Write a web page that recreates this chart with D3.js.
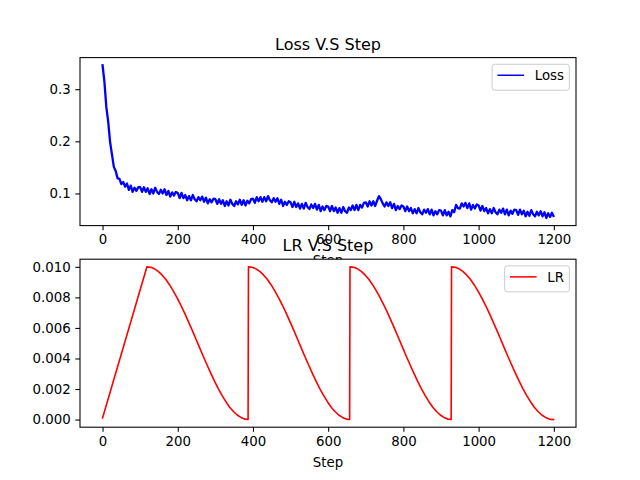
<!DOCTYPE html>
<html><head><meta charset="utf-8">
<script src="https://cdn.jsdelivr.net/npm/d3@7"></script>
<style>
body{margin:0;background:#fff}
svg{display:block}
text{font-family:"DejaVu Sans",sans-serif;fill:#000}
</style>
</head><body>
<script>
// ---------- DATA ----------
const lossStepInterval = 5;
const lossLastStep = 1199;
const lossValues = [
0.346,0.314,0.266,0.238,0.199,0.175,0.151,0.143,0.129,0.128,
0.118,0.122,0.113,0.119,0.107,0.115,0.103,0.111,0.105,0.112,
0.112,0.103,0.112,0.103,0.110,0.099,0.108,0.100,0.111,0.103,
0.099,0.107,0.100,0.108,0.097,0.105,0.094,0.102,0.096,0.103,
0.101,0.091,0.101,0.091,0.097,0.087,0.095,0.087,0.097,0.089,
0.085,0.093,0.087,0.094,0.084,0.092,0.081,0.089,0.083,0.090,
0.089,0.080,0.089,0.080,0.087,0.076,0.085,0.077,0.088,0.080,
0.076,0.085,0.079,0.088,0.078,0.087,0.077,0.086,0.081,0.089,
0.090,0.082,0.093,0.085,0.093,0.084,0.093,0.085,0.095,0.087,
0.083,0.091,0.084,0.091,0.080,0.088,0.076,0.084,0.078,0.085,
0.083,0.074,0.084,0.074,0.081,0.071,0.080,0.071,0.082,0.074,
0.070,0.079,0.072,0.080,0.069,0.078,0.066,0.075,0.068,0.076,
0.075,0.066,0.076,0.066,0.073,0.063,0.072,0.063,0.074,0.066,
0.063,0.073,0.068,0.077,0.068,0.078,0.068,0.078,0.073,0.082,
0.083,0.075,0.085,0.077,0.085,0.076,0.086,0.095,0.089,0.081,
0.075,0.083,0.076,0.083,0.072,0.080,0.068,0.076,0.070,0.077,
0.075,0.066,0.075,0.066,0.072,0.062,0.070,0.062,0.072,0.064,
0.060,0.069,0.063,0.070,0.060,0.069,0.058,0.066,0.060,0.068,
0.067,0.058,0.068,0.058,0.065,0.056,0.068,0.064,0.078,0.072,
0.071,0.081,0.075,0.082,0.072,0.081,0.069,0.078,0.071,0.079,
0.077,0.067,0.076,0.066,0.072,0.062,0.070,0.062,0.072,0.064,
0.060,0.069,0.063,0.071,0.060,0.069,0.058,0.067,0.061,0.069,
0.068,0.059,0.069,0.060,0.067,0.056,0.065,0.057,0.068,0.060,
0.056,0.065,0.058,0.066,0.056,0.064,0.053,0.062,0.055,0.063,
0.057
];
const lrSteps = [
0,
118,128,138,148,158,168,178,188,198,208,218,228,238,248,258,268,278,288,298,308,318,328,338,348,358,368,378,387,
388,398,408,418,428,438,448,458,468,478,488,498,508,518,528,538,548,558,568,578,588,598,608,618,628,638,648,657,
658,668,678,688,698,708,718,728,738,748,758,768,778,788,798,808,818,828,838,848,858,868,878,888,898,908,918,927,
928,938,948,958,968,978,988,998,1008,1018,1028,1038,1048,1058,1068,1078,1088,1098,1108,1118,1128,1138,1148,1158,1168,1178,1188,1199
];
const lrValues = [
0.00010,
0.01000,0.00997,0.00987,0.00970,0.00947,0.00919,0.00883,0.00843,0.00799,0.00750,0.00698,0.00643,0.00587,0.00529,0.00471,0.00413,0.00357,0.00302,0.00250,0.00201,0.00157,0.00117,0.00081,0.00053,0.00030,0.00014,0.00003,0.00000,
0.01000,0.00997,0.00987,0.00970,0.00947,0.00919,0.00883,0.00843,0.00799,0.00750,0.00698,0.00643,0.00587,0.00529,0.00471,0.00413,0.00357,0.00302,0.00250,0.00201,0.00157,0.00117,0.00081,0.00053,0.00030,0.00014,0.00003,0.00000,
0.01000,0.00997,0.00987,0.00970,0.00947,0.00919,0.00883,0.00843,0.00799,0.00750,0.00698,0.00643,0.00587,0.00529,0.00471,0.00413,0.00357,0.00302,0.00250,0.00201,0.00157,0.00117,0.00081,0.00053,0.00030,0.00014,0.00003,0.00000,
0.01000,0.00997,0.00987,0.00970,0.00947,0.00919,0.00883,0.00843,0.00799,0.00750,0.00698,0.00643,0.00587,0.00529,0.00471,0.00413,0.00357,0.00302,0.00250,0.00201,0.00157,0.00117,0.00081,0.00053,0.00030,0.00014,0.00003,0.00000
];
const xTicks = [0,200,400,600,800,1000,1200];
const lossYTicks = [0.1,0.2,0.3];
const lrYTicks = [0.000,0.002,0.004,0.006,0.008,0.010];
const titles = ["Loss V.S Step","LR V.S Step"];
const legendLabels = ["Loss","LR"];
const xLabel = "Step";

// ---------- BUILD ----------
const lossSteps = lossValues.map((v,i)=> i === lossValues.length-1 ? lossLastStep : i*lossStepInterval);
const lossData = lossValues.map((v,i)=>({x:lossSteps[i], y:v}));
const lrData = lrValues.map((v,i)=>({x:lrSteps[i], y:v}));

const W = 640, H = 480;
const svg = d3.select("body").append("svg").attr("width",W).attr("height",H);
svg.append("rect").attr("width",W).attr("height",H).attr("fill","#fff");

const axL = 80, axR = 576;
const panels = [
  {top:57.6, bottom:225.6, data:lossData, yTicks:lossYTicks, fmt:d3.format(".1f"), color:"#0000ff", title:titles[0], label:legendLabels[0], sw:2.3},
  {top:259.2, bottom:427.2, data:lrData, yTicks:lrYTicks, fmt:d3.format(".3f"), color:"#ff0000", title:titles[1], label:legendLabels[1], sw:1.6}
];

function padded(ext){ const s = ext[1]-ext[0]; return [ext[0]-0.05*s, ext[1]+0.05*s]; }

panels.forEach(p=>{
  const g = svg.append("g");
  const x = d3.scaleLinear().domain(padded(d3.extent(p.data,d=>d.x))).range([axL,axR]);
  const y = d3.scaleLinear().domain(padded(d3.extent(p.data,d=>d.y))).range([p.bottom,p.top]);

  g.append("rect").attr("x",axL).attr("y",p.top).attr("width",axR-axL).attr("height",p.bottom-p.top).attr("fill","#fff");

  g.append("path").datum(p.data)
    .attr("fill","none").attr("stroke",p.color).attr("stroke-width",p.sw)
    .attr("stroke-linejoin","round").attr("stroke-linecap","square")
    .attr("d", d3.line().x(d=>x(d.x)).y(d=>y(d.y)));

  // frame
  g.append("rect").attr("x",axL).attr("y",p.top).attr("width",axR-axL).attr("height",p.bottom-p.top)
    .attr("fill","none").attr("stroke","#000").attr("stroke-width",1.07);

  // x axis
  const xa = g.append("g").attr("transform",`translate(0,${p.bottom})`)
    .call(d3.axisBottom(x).tickValues(xTicks).tickSize(4.67).tickPadding(4.2).tickFormat(d3.format("d")));
  xa.select(".domain").remove();
  xa.selectAll("line").attr("stroke","#000").attr("stroke-width",1.07);
  xa.selectAll("text").attr("font-size","13.33px").attr("font-family","DejaVu Sans").attr("fill","#000");

  const ya = g.append("g").attr("transform",`translate(${axL},0)`)
    .call(d3.axisLeft(y).tickValues(p.yTicks).tickSize(4.67).tickPadding(4.67).tickFormat(p.fmt));
  ya.select(".domain").remove();
  ya.selectAll("line").attr("stroke","#000").attr("stroke-width",1.07);
  ya.selectAll("text").attr("font-size","13.33px").attr("font-family","DejaVu Sans").attr("fill","#000");

  g.append("text").attr("x",(axL+axR)/2).attr("y",p.bottom+39.5).attr("text-anchor","middle")
    .attr("font-size","13.33px").text(xLabel);

  g.append("text").attr("x",(axL+axR)/2).attr("y",p.top-8).attr("text-anchor","middle")
    .attr("font-size","16px").text(p.title);

  // legend
  const lg = g.append("g");
  const fr = lg.append("rect");
  const t = lg.append("text").attr("font-size","13.33px").text(p.label);
  const tw = t.node().getComputedTextLength();
  const bw = 5.33+26.67+10.67+tw+5.33, bh = 26;
  const bx = axR-6.67-bw, by = p.top+6.67;
  fr.attr("x",bx).attr("y",by).attr("width",bw).attr("height",bh).attr("rx",2.7)
    .attr("fill","#fff").attr("fill-opacity",0.8).attr("stroke","#cccccc").attr("stroke-width",1);
  lg.append("line").attr("x1",bx+5.33).attr("x2",bx+5.33+26.67).attr("y1",by+11).attr("y2",by+11)
    .attr("stroke",p.color).attr("stroke-width",1.5);
  t.attr("x",bx+5.33+26.67+10.67).attr("y",by+15.9);
});
</script>
</body></html>
